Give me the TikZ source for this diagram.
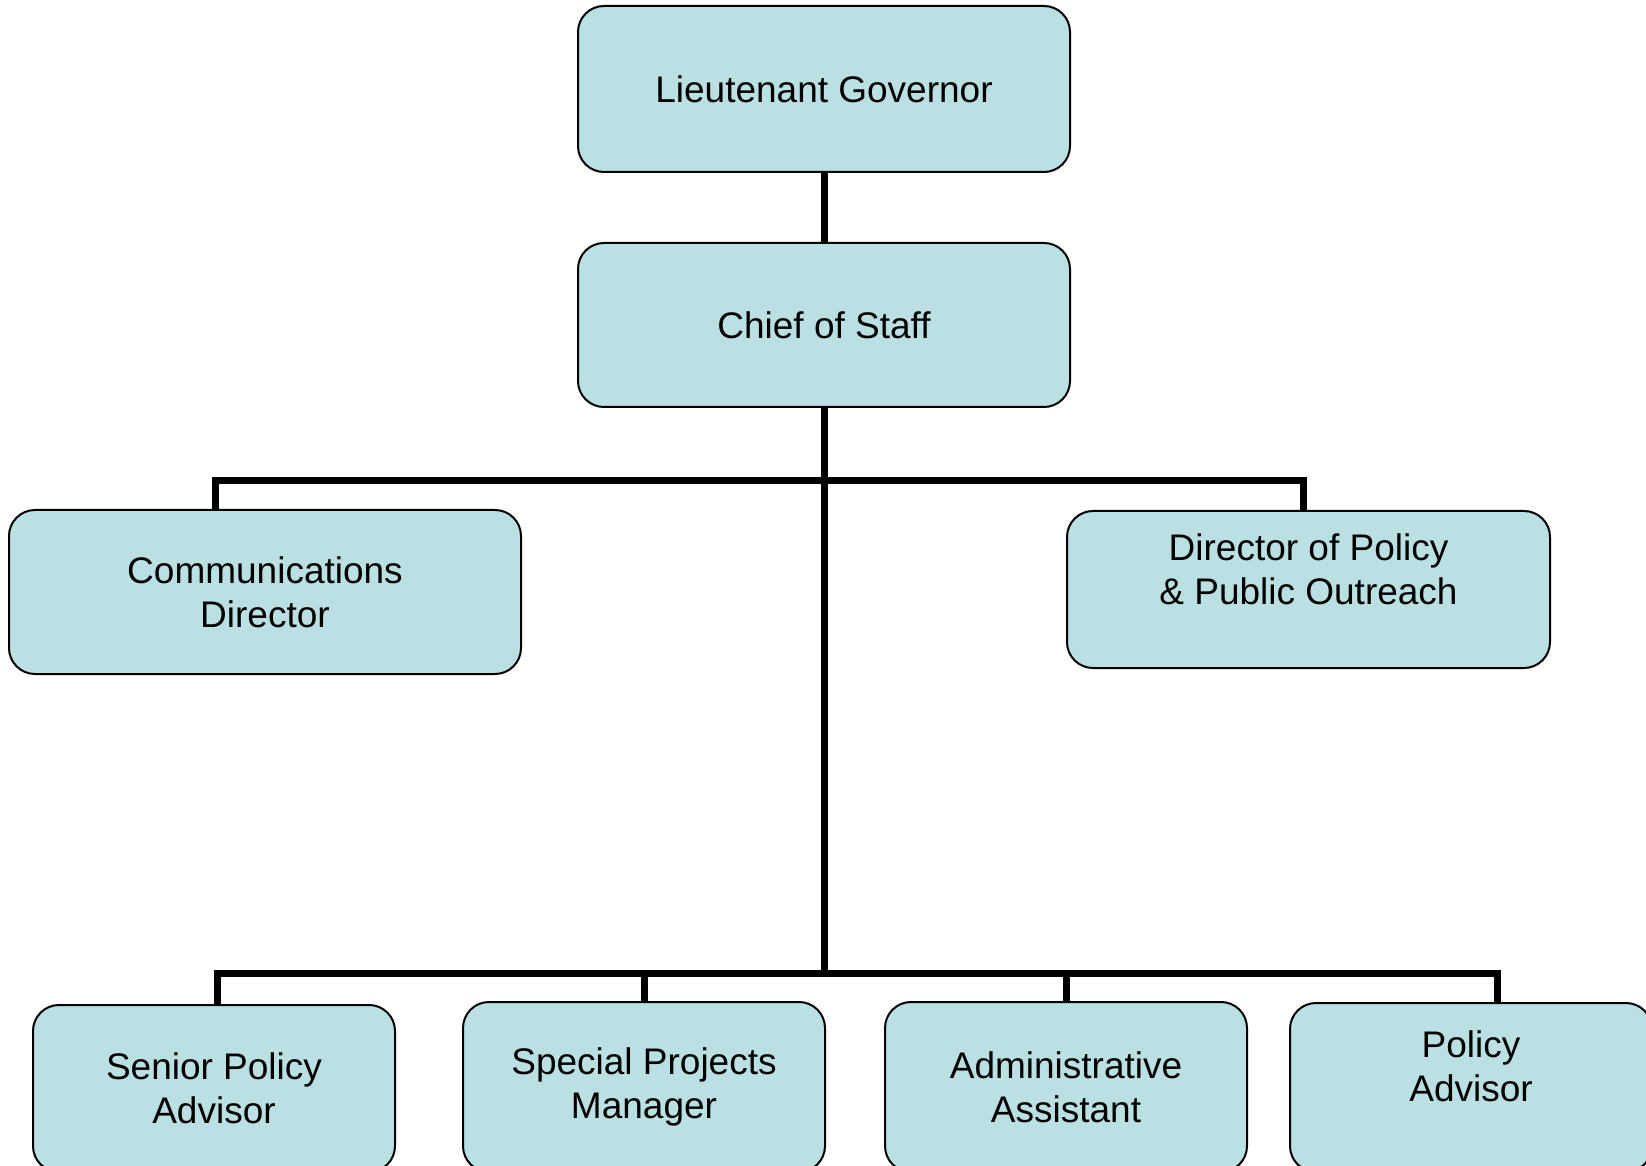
\documentclass[tikz,border=0pt]{standalone}
\usepackage{fontspec}
\setmainfont{Liberation Sans}
\usepackage{tikz}
\usetikzlibrary{
    positioning,
    calc
}
\definecolor{BoxFill}{RGB}{187,224,227}

\begin{document}
\begin{tikzpicture}[
    x=0.5pt, y=-0.5pt,
    font=\fontsize{18.5}{22}\selectfont,
    box/.style={draw=black, line width=1pt, fill=BoxFill, rounded corners=13pt,
        align=center, inner sep=0pt},
    wide/.style={box, minimum width=246pt, minimum height=82pt},
    small/.style={box, minimum width=181pt, minimum height=85pt},
    link/.style={line width=3.5pt, line join=miter},
]
    % Page size
    \useasboundingbox (0,0) rectangle (1646,1166);
    \clip (0,0) rectangle (1646,1166);

    % Top levels
    \node[wide, minimum height=83pt] (lg) at (824,89) {Lieutenant Governor};
    \node[wide] (cos) at (824,325) {Chief of Staff};

    % Middle level
    \node[box, minimum width=256pt, minimum height=82pt] (comm) at (265,592) {Communications\\Director};
    \node[box, minimum width=241.5pt, minimum height=78.5pt] (dppo) at (1308.5,589.5) {};
    \node[align=center] (dppo-txt) at (1308.5,569) {Director of Policy\\\& Public Outreach};

    % Bottom level (runs off the page)
    \node[small, minimum height=83.5pt] (spa) at (214,1088.5) {Senior Policy\\Advisor};
    \node[small] (spm) at (644,1087) {Special Projects\\Manager};
    \node[small] (aa) at (1066,1087) {Administrative\\Assistant};
    \node[small, minimum height=84.5pt] (pa) at (1471,1087.5) {};
    \node[align=center] (pa-txt) at (1471,1066) {Policy\\Advisor};

    % Bus lines
    \coordinate (bus1w) at (215,481);
    \coordinate (bus1e) at (1303,481);
    \coordinate (bus2w) at (217,973);
    \coordinate (bus2e) at (1497,973);

    % Connectors
    \draw[link] (lg.south) -- (cos.north);
    \draw[link] (cos.south) -- (cos.south |- bus2w);
    \draw[link] (bus1w |- comm.north) -- (bus1w) -- (bus1e) -- (bus1e |- dppo.north);
    \draw[link] (bus2w |- spa.north) -- (bus2w) -- (bus2e) -- (bus2e |- pa.north);
    \draw[link] (spm.north |- bus2w) -- (spm.north);
    \draw[link] (aa.north |- bus2w) -- (aa.north);

\end{tikzpicture}
\end{document}
